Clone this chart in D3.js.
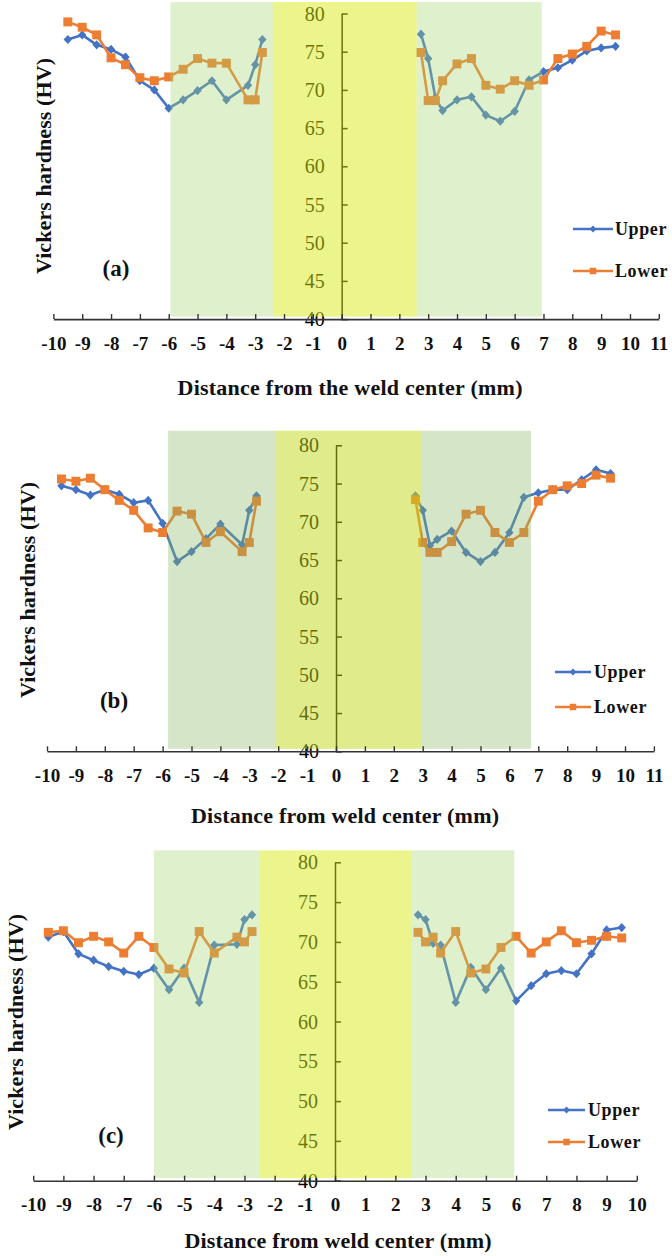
<!DOCTYPE html>
<html>
<head>
<meta charset="utf-8">
<script src="https://cdn.jsdelivr.net/npm/d3@7"></script>
<style>
  html, body { margin: 0; padding: 0; background: #fff; }
  svg { display: block; }
</style>
</head>
<body>
<svg id="chart" width="672" height="1256"></svg>
<script>
// ---------------- DATA ----------------
const distance = [-9.5, -9, -8.5, -8, -7.5, -7, -6.5, -6, -5.5, -5, -4.5, -4, -3.25, -3, -2.75,
                  2.75, 3, 3.25, 3.5, 4, 4.5, 5, 5.5, 6, 6.5, 7, 7.5, 8, 8.5, 9, 9.5];

const upperA = [76.6, 77.2, 75.9, 75.3, 74.3, 71.2, 70.0, 67.6, 68.7, 69.9, 71.2, 68.7, 70.6, 73.3, 76.6,
                77.3, 74.1, 69.0, 67.3, 68.7, 69.1, 66.7, 65.9, 67.2, 71.3, 72.4, 72.9, 73.9, 75.1, 75.5, 75.7];
const lowerA = [78.9, 78.2, 77.2, 74.2, 73.3, 71.6, 71.2, 71.7, 72.7, 74.1, 73.5, 73.5, 68.7, 68.7, 74.9,
                74.9, 68.6, 68.6, 71.2, 73.4, 74.1, 70.6, 70.1, 71.2, 70.6, 71.3, 74.1, 74.7, 75.7, 77.7, 77.2];

const upperB = [74.7, 74.2, 73.5, 74.2, 73.6, 72.5, 72.8, 69.8, 64.8, 66.1, 67.8, 69.7, 67.0, 71.5, 73.4,
                73.4, 71.5, 66.9, 67.7, 68.8, 66.0, 64.8, 66.0, 68.6, 73.2, 73.8, 74.2, 74.2, 75.5, 76.8, 76.3];
const lowerB = [75.6, 75.3, 75.7, 74.2, 72.8, 71.5, 69.2, 68.6, 71.4, 71.0, 67.3, 68.7, 66.1, 67.3, 72.7,
                72.9, 67.3, 66.0, 66.0, 67.4, 71.0, 71.5, 68.6, 67.3, 68.6, 72.7, 74.2, 74.7, 75.0, 76.1, 75.7];

const upperC = [70.6, 71.3, 68.5, 67.7, 66.9, 66.3, 65.9, 66.7, 64.0, 66.7, 62.4, 69.6, 69.7, 72.8, 73.4,
                73.4, 72.8, 69.8, 69.6, 62.4, 66.8, 64.0, 66.7, 62.6, 64.5, 66.0, 66.4, 66.0, 68.5, 71.5, 71.8];
const lowerC = [71.2, 71.4, 69.9, 70.7, 70.0, 68.6, 70.7, 69.3, 66.6, 66.1, 71.3, 68.6, 70.6, 70.0, 71.3,
                71.2, 70.0, 70.6, 68.6, 71.3, 66.1, 66.6, 69.3, 70.7, 68.6, 70.0, 71.4, 69.9, 70.2, 70.7, 70.5];

const seriesNames = ["Upper", "Lower"];
const xTicksAB = [-10, -9, -8, -7, -6, -5, -4, -3, -2, -1, 0, 1, 2, 3, 4, 5, 6, 7, 8, 9, 10, 11];
const xTicksC  = [-10, -9, -8, -7, -6, -5, -4, -3, -2, -1, 0, 1, 2, 3, 4, 5, 6, 7, 8, 9, 10];
const yTicks   = [40, 45, 50, 55, 60, 65, 70, 75, 80];

// zone boundaries (mm) of the shaded zones
const greenZoneA = [-5.94, 6.94], yellowZoneA = [-2.39, 2.60];
const greenZoneB = [-5.81, 6.75], yellowZoneB = [-2.11, 2.94];
const greenZoneC = [-6.0, 5.94],  yellowZoneC = [-2.49, 2.52];

// ---------------- LAYOUT ----------------
const SERIF = "'Liberation Serif', 'Times New Roman', serif";
const COL_UP = "#4472C4", COL_LO = "#ED7D31";

const panels = [
  { tag: "(a)", upper: upperA, lower: lowerA, xTicks: xTicksAB, xDomain: [-10, 11], xRange: [53.4, 658.8],
    yRange: [319.1, 13.5], green: greenZoneA, yellow: yellowZoneA, bandTop: 81.5,
    greenFill: "rgb(163,212,112)", yellowFill: "rgb(215,235,25)",
    title: "Distance from the weld center (mm)", titleX: 350, titleY: 387, titleLen: 345,
    yTitleX: 43, yTitleCY: 166, tagX: 116, tagY: 268,
    leg: { x1: 573, x2: 613, tx: 615, y1: 229, y2: 271 } },
  { tag: "(b)", upper: upperB, lower: lowerB, xTicks: xTicksAB, xDomain: [-10, 11], xRange: [47.0, 653.9],
    yRange: [751.3, 445.3], green: greenZoneB, yellow: yellowZoneB, bandTop: 81.9,
    greenFill: "rgb(135,184,98)", yellowFill: "rgb(193,215,25)",
    title: "Distance from weld center (mm)", titleX: 345, titleY: 815, titleLen: 308,
    yTitleX: 27, yTitleCY: 590, tagX: 114, tagY: 700,
    leg: { x1: 555, x2: 591, tx: 594, y1: 672, y2: 707 } },
  { tag: "(c)", upper: upperC, lower: lowerC, xTicks: xTicksC, xDomain: [-10, 10], xRange: [33.2, 636.8],
    yRange: [1180.7, 862.3], green: greenZoneC, yellow: yellowZoneC, bandTop: 81.5,
    greenFill: "rgb(163,212,112)", yellowFill: "rgb(215,235,25)",
    title: "Distance from weld center (mm)", titleX: 338, titleY: 1240, titleLen: 307,
    yTitleX: 15, yTitleCY: 1022, tagX: 111, tagY: 1135,
    leg: { x1: 548, x2: 585, tx: 588, y1: 1110, y2: 1142 } }
];

const svg = d3.select("#chart");
const diamondPath = "M0,-4.6L4.2,0L0,4.6L-4.2,0Z";
const squareSym = d3.symbol().type(d3.symbolSquare).size(80)();
const legSquareSym = d3.symbol().type(d3.symbolSquare).size(42)();
const legDiamond = "M0,-3.6L3.3,0L0,3.6L-3.3,0Z";

panels.forEach(p => {
  const g = svg.append("g");
  const x = d3.scaleLinear().domain(p.xDomain).range(p.xRange);
  const y = d3.scaleLinear().domain([40, 80]).range(p.yRange);

  // ---- y axis at x=0 (drawn beneath the translucent weld-zone band) ----
  const yAxis = d3.axisLeft(y).tickValues(yTicks).tickSizeInner(-6).tickSizeOuter(0).tickPadding(17);
  const gy = g.append("g").attr("transform", `translate(${x(0)},0)`).call(yAxis);
  gy.attr("font-family", SERIF).attr("font-size", 20);
  gy.selectAll("path.domain").attr("stroke", "#000").attr("stroke-width", 1.5);
  gy.selectAll(".tick line").attr("stroke", "#000").attr("stroke-width", 1.5);
  gy.selectAll(".tick text").attr("fill", "#000").attr("dy", "0.33em");

  // ---- series ----
  const idxL = distance.map((d, i) => i).filter(i => distance[i] < 0);
  const idxR = distance.map((d, i) => i).filter(i => distance[i] > 0);
  const line = d3.line().x(i => x(distance[i]));

  const drawSeries = (vals, color, isUpper) => {
    const ln = line.y(i => y(vals[i]));
    [idxL, idxR].forEach(idx => {
      g.append("path").attr("d", ln(idx)).attr("fill", "none")
        .attr("stroke", color).attr("stroke-width", 2.6).attr("stroke-linejoin", "round");
    });
    g.append("g").selectAll("path").data(distance.map((d, i) => i)).join("path")
      .attr("transform", i => `translate(${x(distance[i])},${y(vals[i])})`)
      .attr("d", isUpper ? diamondPath : squareSym)
      .attr("fill", color);
  };
  drawSeries(p.upper, COL_UP, true);
  drawSeries(p.lower, COL_LO, false);

  // ---- translucent zone bands on top (green on each side, yellow in the middle) ----
  const bandBottom = y(40) - 2.5;
  const bandTopPx = y(p.bandTop);
  const zones = [
    [p.green[0], p.yellow[0], p.greenFill, 0.35],
    [p.yellow[1], p.green[1], p.greenFill, 0.35],
    [p.yellow[0], p.yellow[1], p.yellowFill, 0.5]
  ];
  zones.forEach(([a, b, fill, op]) => {
    g.append("rect")
      .attr("x", x(a)).attr("width", x(b) - x(a))
      .attr("y", bandTopPx).attr("height", bandBottom - bandTopPx)
      .attr("fill", fill).attr("fill-opacity", op);
  });

  // ---- x axis ----
  const xAxis = d3.axisBottom(x).tickValues(p.xTicks).tickSizeInner(-5).tickSizeOuter(0).tickPadding(17)
    .tickFormat(d3.format("d"));
  const gx = g.append("g").attr("transform", `translate(0,${y(40)})`).call(xAxis);
  gx.attr("font-family", SERIF).attr("font-size", 19).attr("font-weight", "bold");
  gx.selectAll("path.domain").attr("stroke", "#333").attr("stroke-width", 1.6);
  gx.selectAll(".tick line").attr("stroke", "#333").attr("stroke-width", 1.4);
  gx.selectAll(".tick text").attr("fill", "#111").attr("dy", "0.71em");
  gx.selectAll(".tick text").text(d => d < 0 ? "-" + Math.abs(d) : d);

  // ---- titles ----
  g.append("text").attr("x", p.titleX).attr("y", p.titleY).attr("dy", "0.35em")
    .attr("text-anchor", "middle").attr("font-family", SERIF).attr("font-weight", "bold")
    .attr("font-size", 22).attr("fill", "#111")
    .attr("textLength", p.titleLen).attr("lengthAdjust", "spacing")
    .text(p.title);

  g.append("text").attr("transform", `translate(${p.yTitleX},${p.yTitleCY}) rotate(-90)`)
    .attr("dy", "0.35em").attr("text-anchor", "middle").attr("font-family", SERIF)
    .attr("font-weight", "bold").attr("font-size", 22).attr("fill", "#111")
    .attr("textLength", 216).attr("lengthAdjust", "spacing")
    .text("Vickers hardness (HV)");

  g.append("text").attr("x", p.tagX).attr("y", p.tagY).attr("dy", "0.35em")
    .attr("text-anchor", "middle").attr("font-family", SERIF).attr("font-weight", "bold")
    .attr("font-size", 23).attr("fill", "#111").text(p.tag);

  // ---- legend ----
  const L = p.leg;
  [[seriesNames[0], COL_UP, L.y1, legDiamond], [seriesNames[1], COL_LO, L.y2, legSquareSym]].forEach(([name, col, ly, shp]) => {
    g.append("line").attr("x1", L.x1).attr("x2", L.x2).attr("y1", ly).attr("y2", ly)
      .attr("stroke", col).attr("stroke-width", 2.6);
    g.append("path").attr("d", shp).attr("transform", `translate(${(L.x1 + L.x2) / 2},${ly})`).attr("fill", col);
    g.append("text").attr("x", L.tx).attr("y", ly).attr("dy", "0.35em")
      .attr("font-family", SERIF).attr("font-weight", "bold").attr("font-size", 18)
      .attr("fill", "#111").attr("letter-spacing", 0.6).text(name);
  });
});
</script>
</body>
</html>
